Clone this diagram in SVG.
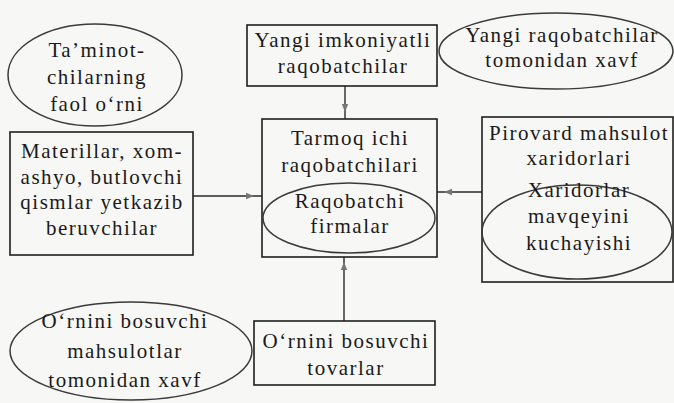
<svg xmlns="http://www.w3.org/2000/svg" width="674" height="403" viewBox="0 0 674 403">
<defs>
<style>
.bg{fill:#f7f7f5}
.box{fill:none;stroke:#1e1e1e;stroke-width:1.6}
.ell{fill:none;stroke:#3a3a3a;stroke-width:1.5}
.ln{fill:none;stroke:#2a2a2a;stroke-width:1.4}
</style>
<marker id="ah" viewBox="0 0 10 10" refX="5" refY="5" markerWidth="8" markerHeight="8" markerUnits="userSpaceOnUse" orient="auto">
<path d="M0,1 L10,5 L0,9 Z" fill="#777"/>
</marker>
</defs>
<rect class="bg" x="0" y="0" width="674" height="403"/>

<g id="connectors">
<path class="ln" d="M345,86 L345,108 L345,119" marker-mid="url(#ah)"/>
<path class="ln" d="M193,196 L250,196 L262,196" marker-mid="url(#ah)"/>
<path class="ln" d="M482,192 L448,192 L437,192" marker-mid="url(#ah)"/>
<path class="ln" d="M344,321 L344,266 L344,257" marker-mid="url(#ah)"/>
</g>

<g font-family="Liberation Serif" font-size="21" letter-spacing="1.5" fill="#1a1a1a" text-anchor="middle">
<g id="taminot">
<ellipse class="ell" cx="95" cy="75" rx="87" ry="51"/>
<text x="97" y="57">Ta’minot-</text>
<text x="97" y="84">chilarning</text>
<text x="97" y="111">faol o‘rni</text>
</g>

<g id="yangi-imkoniyatli">
<rect class="box" x="247" y="25" width="190" height="61"/>
<text x="343" y="47">Yangi imkoniyatli</text>
<text x="343" y="73">raqobatchilar</text>
</g>

<g id="yangi-xavf">
<ellipse class="ell" cx="556" cy="51" rx="117" ry="38"/>
<text x="562" y="42">Yangi raqobatchilar</text>
<text x="562" y="67">tomonidan xavf</text>
</g>

<g id="materillar">
<rect class="box" x="10" y="132" width="183" height="123"/>
<text x="102" y="158">Materillar, xom-</text>
<text x="102" y="184">ashyo, butlovchi</text>
<text x="102" y="209">qismlar yetkazib</text>
<text x="102" y="235">beruvchilar</text>
</g>

<g id="tarmoq">
<rect class="box" x="262" y="119" width="175" height="138"/>
<text x="350" y="145">Tarmoq ichi</text>
<text x="350" y="172">raqobatchilari</text>
<ellipse class="ell" cx="349" cy="218" rx="86" ry="35"/>
<text x="350" y="208">Raqobatchi</text>
<text x="350" y="233">firmalar</text>
</g>

<g id="pirovard">
<rect class="box" x="482" y="117" width="191" height="165"/>
<text x="579" y="140">Pirovard mahsulot</text>
<text x="579" y="165">xaridorlari</text>
<ellipse class="ell" cx="577" cy="232" rx="95" ry="47"/>
<text x="579" y="197">Xaridorlar</text>
<text x="579" y="223">mavqeyini</text>
<text x="579" y="250">kuchayishi</text>
</g>

<g id="ornini-xavf">
<ellipse class="ell" cx="131" cy="351" rx="121" ry="49"/>
<text x="125" y="328">O‘rnini bosuvchi</text>
<text x="125" y="358">mahsulotlar</text>
<text x="125" y="387">tomonidan xavf</text>
</g>

<g id="ornini-tovarlar">
<rect class="box" x="254" y="321" width="181" height="64"/>
<text x="346" y="348">O‘rnini bosuvchi</text>
<text x="346" y="375">tovarlar</text>
</g>
</g>
</svg>
